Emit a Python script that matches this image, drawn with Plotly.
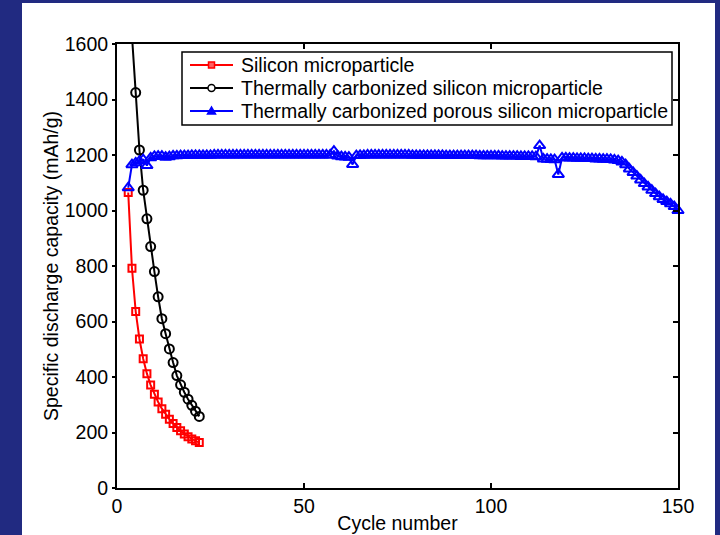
import plotly.graph_objects as go

# ---------------- data ----------------
si_cycles = list(range(3, 23))
si_capacity = [1065, 792, 636, 537, 466, 412, 371, 338, 310, 286,
               266, 248, 232, 218, 206, 195, 185, 177, 170, 164]

tc_cycles = list(range(3, 23))
tc_capacity = [2150, 1630, 1425, 1218, 1073, 970, 870, 780, 689, 610,
               556, 501, 452, 405, 372, 345, 320, 298, 277, 258]

tcp_cycles = list(range(3, 151))
tcp_capacity = [
    1082, 1165, 1172, 1178, 1183, 1162, 1190, 1195, 1196, 1196,   # 3-12
    1192, 1194, 1197, 1197, 1198, 1198, 1198, 1199, 1199, 1199,   # 13-22
    1199, 1199, 1199, 1200, 1200, 1200, 1200, 1200, 1200, 1200,   # 23-32
    1200, 1200, 1200, 1200, 1200, 1200, 1200, 1200, 1200, 1200,   # 33-42
    1200, 1200, 1200, 1200, 1200, 1200, 1200, 1200, 1200, 1200,   # 43-52
    1200, 1200, 1200, 1200, 1200, 1214, 1196, 1194, 1193, 1192,   # 53-62
    1166, 1198, 1199, 1199, 1200, 1200, 1200, 1200, 1200, 1200,   # 63-72
    1200, 1200, 1200, 1200, 1200, 1200, 1199, 1199, 1199, 1199,   # 73-82
    1199, 1199, 1199, 1199, 1199, 1198, 1198, 1198, 1198, 1198,   # 83-92
    1198, 1198, 1198, 1198, 1197, 1197, 1197, 1197, 1197, 1197,   # 93-102
    1196, 1196, 1196, 1196, 1196, 1195, 1195, 1195, 1195, 1194,   # 103-112
    1234, 1186, 1185, 1184, 1183, 1130, 1190, 1190, 1189, 1189,   # 113-122
    1188, 1188, 1188, 1187, 1187, 1186, 1186, 1185, 1185, 1184,   # 123-132
    1182, 1180, 1175, 1165, 1150, 1137, 1124, 1110, 1097, 1085,   # 133-142
    1073, 1061, 1050, 1040, 1032, 1024, 1014, 1000                # 143-150
]

x_ticks = [0, 50, 100, 150]
y_ticks = [0, 200, 400, 600, 800, 1000, 1200, 1400, 1600]

series_names = ["Silicon microparticle",
                "Thermally carbonized silicon microparticle",
                "Thermally carbonized porous silicon microparticle"]
series_colors = ["#ff0000", "#000000", "#0000ff"]

# ---------------- figure ----------------
FONT = "Arial, Liberation Sans, Helvetica, sans-serif"
FS = 19.5
NAVY = "#212A81"

L, R, T, B = 117, 42, 44, 47
W, H = 720, 535
pw, ph = W - L - R, H - T - B


def px(x):
    return (x - L) / pw


def py(y):
    return (H - B - y) / ph


fig = go.Figure()

fig.add_trace(go.Scatter(
    x=si_cycles, y=si_capacity, name=series_names[0], mode="lines+markers",
    line=dict(color=series_colors[0], width=2),
    marker=dict(symbol="square-open", size=7, color=series_colors[0], line=dict(width=2)),
    cliponaxis=True, showlegend=False))

fig.add_trace(go.Scatter(
    x=tc_cycles, y=tc_capacity, name=series_names[1], mode="lines+markers",
    line=dict(color=series_colors[1], width=2),
    marker=dict(symbol="circle-open", size=9, color=series_colors[1], line=dict(width=2)),
    cliponaxis=True, showlegend=False))

fig.add_trace(go.Scatter(
    x=tcp_cycles, y=tcp_capacity, name=series_names[2], mode="lines+markers",
    line=dict(color=series_colors[2], width=2),
    marker=dict(symbol="triangle-up-open", size=10, color=series_colors[2], line=dict(width=2)),
    cliponaxis=False, showlegend=False))

# dummy trace so the right-hand tick axis is drawn
fig.add_trace(go.Scatter(x=[None], y=[None], yaxis="y2", showlegend=False,
                         hoverinfo="skip"))

# white page area on the navy background
fig.add_shape(type="rect", xref="paper", yref="paper",
              x0=px(22), x1=px(715), y0=-0.3, y1=py(3),
              fillcolor="white", line=dict(width=0), layer="below")

# ---- legend box (drawn as layout decoration) ----
fig.add_shape(type="rect", xref="paper", yref="paper",
              x0=px(182), x1=px(672), y0=py(125), y1=py(52),
              fillcolor="white", line=dict(color="black", width=1.5), layer="above")
rows_y = [65, 88, 111]
for name, col, yy, k in zip(series_names, series_colors, rows_y, range(3)):
    fig.add_shape(type="line", xref="paper", yref="paper",
                  x0=px(190), x1=px(233), y0=py(yy), y1=py(yy),
                  line=dict(color=col, width=2), layer="above")
    cx = 211.5
    if k == 0:
        fig.add_shape(type="rect", xref="paper", yref="paper",
                      x0=px(cx - 3), x1=px(cx + 3), y0=py(yy + 3), y1=py(yy - 3),
                      fillcolor="#ff6060", line=dict(color=col, width=1.5), layer="above")
    elif k == 1:
        fig.add_shape(type="circle", xref="paper", yref="paper",
                      x0=px(cx - 3.5), x1=px(cx + 3.5), y0=py(yy + 3.5), y1=py(yy - 3.5),
                      fillcolor="white", line=dict(color=col, width=1.5), layer="above")
    else:
        path = "M {:.5f},{:.5f} L {:.5f},{:.5f} L {:.5f},{:.5f} Z".format(
            px(cx - 4), py(yy + 3), px(cx + 4), py(yy + 3), px(cx), py(yy - 4))
        fig.add_shape(type="path", xref="paper", yref="paper", path=path,
                      fillcolor=col, line=dict(color=col, width=1.5), layer="above")
    fig.add_annotation(x=px(239), y=py(yy), xref="paper", yref="paper",
                       text=name, showarrow=False, xanchor="left", yanchor="middle",
                       font=dict(family=FONT, size=FS, color="black"))

fig.update_layout(
    width=W, height=H,
    margin=dict(l=L, r=R, t=T, b=B, autoexpand=False),
    paper_bgcolor=NAVY, plot_bgcolor="white",
    font=dict(family=FONT, size=FS, color="black"),
    showlegend=False,
    xaxis=dict(range=[0, 150], tickvals=x_ticks, ticks="inside", ticklen=5,
               tickwidth=1.5, tickcolor="black", showline=True, linecolor="black",
               linewidth=2, mirror="ticks", showgrid=False, zeroline=False,
               tickfont=dict(family=FONT, size=FS, color="black"),
               title=dict(text="Cycle number", standoff=0,
                          font=dict(family=FONT, size=FS, color="black")),
               automargin=False),
    yaxis=dict(range=[0, 1600], tickvals=y_ticks, ticks="outside", ticklen=3,
               tickwidth=1.5, tickcolor="black", showline=True, linecolor="black",
               linewidth=2, mirror=True, showgrid=False, zeroline=False,
               tickfont=dict(family=FONT, size=FS, color="black"),
               title=dict(text="Specific discharge capacity (mAh/g)", standoff=1,
                          font=dict(family=FONT, size=FS, color="black")),
               automargin=False),
    yaxis2=dict(range=[0, 1600], tickvals=y_ticks, overlaying="y", side="right",
                ticks="inside", ticklen=5, tickwidth=1.5, tickcolor="black",
                showticklabels=False, showline=True, linecolor="black", linewidth=2,
                showgrid=False, zeroline=False, automargin=False),
)

fig.write_html("out.html", config={"displayModeBar": False},
               post_script="document.body.style.margin='0';document.body.style.overflow='hidden';")
